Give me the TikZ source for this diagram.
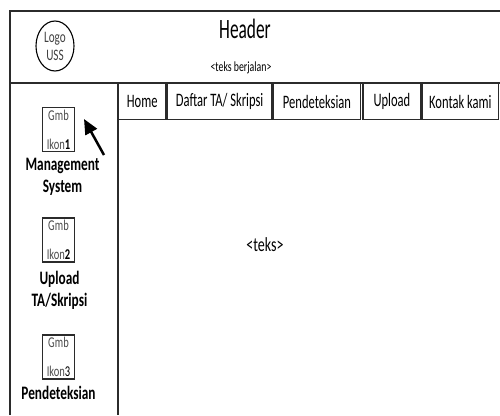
\documentclass[tikz,border=0pt]{standalone}
\usepackage{fontspec}
\setmainfont{Carlito}
\newfontfamily\narrowfont{Carlito}[FakeStretch=0.7]
\newfontfamily\navfont{Carlito}[FakeStretch=0.66]
\newfontfamily\headfont{Carlito}[FakeStretch=0.62]
\usetikzlibrary{shapes.geometric,arrows.meta,positioning}
\definecolor{LN}{HTML}{2B2B2B}
\tikzset{
  frameline/.style={draw=LN, line width=1.7pt},
  navbox/.style={draw=LN, line width=1.4pt, minimum height=36pt, inner sep=0pt,
    font=\navfont\fontsize{19}{19}\selectfont},
  ikonbox/.style={draw=LN, line width=1.1pt, minimum width=32pt, minimum height=44pt,
    inner sep=0pt, align=center, text=black!70,
    font=\narrowfont\fontsize{15}{29}\selectfont},
  menulabel/.style={align=center, inner sep=1pt,
    font=\narrowfont\bfseries\fontsize{19}{22}\selectfont}
}

\begin{document}
\begin{tikzpicture}[x=1pt,y=-1pt]
  \useasboundingbox (0,0) rectangle (500,415);
  % frame
  \draw[frameline] (10,415) -- (10,11) -- (500,11);
  \draw[frameline] (10,83) -- (500,83);
  \draw[frameline] (118,83) -- (118,415);

  % header
  \node[ellipse, draw=black, line width=1.1pt, minimum width=38pt, minimum height=50pt,
        inner sep=0pt, align=center, text=black!75,
        font=\narrowfont\fontsize{16}{18}\selectfont] (logo) at (55,46) {Logo\\USS};
  \node[font=\headfont\fontsize{28}{28}\selectfont] (header) at (245,29) {Header};
  \node[font=\narrowfont\fontsize{14}{14}\selectfont] (berjalan) at (241,68) {<teks berjalan>};

  % navigation
  \node[navbox, minimum width=47pt, anchor=north west] (home) at (118,83) {Home};
  \node[navbox, minimum width=105pt, right=0pt of home] (daftar) {Daftar TA/ Skripsi};
  \node[navbox, minimum width=87pt, right=0pt of daftar] (deteksi) {Pendeteksian};
  \node[navbox, minimum width=58pt, right=1pt of deteksi] (upload) {Upload};
  \node[navbox, minimum width=76pt, right=0pt of upload] (kontak) {Kontak kami};

  % content
  \node[font=\narrowfont\fontsize{20}{20}\selectfont] (isi) at (265,245) {<teks>};

  % sidebar
  \node[ikonbox] (ikon1) at (58.5,129.5) {Gmb\\Ikon\textcolor{black}{\bfseries 1}};
  \node[menulabel, below=5pt of ikon1, xshift=4pt] (menu1) {Management\\System};
  \node[ikonbox] (ikon2) at (58.5,240) {Gmb\\Ikon\textcolor{black}{\bfseries 2}};
  \node[menulabel, below=7pt of ikon2, xshift=1pt] (menu2) {Upload\\TA/Skripsi};
  \node[ikonbox] (ikon3) at (58.5,357) {Gmb\\Ikon\textcolor{black}{3}};
  \node[menulabel, below=5pt of ikon3] (menu3) {Pendeteksian};

  % pointer
  \coordinate (ptrtail) at (104,155);
  \coordinate (ptrtip) at (84,119);
  \draw[line width=2.5pt, -{Triangle[length=15pt,width=13pt]}] (ptrtail) -- (ptrtip);
\end{tikzpicture}
\end{document}
